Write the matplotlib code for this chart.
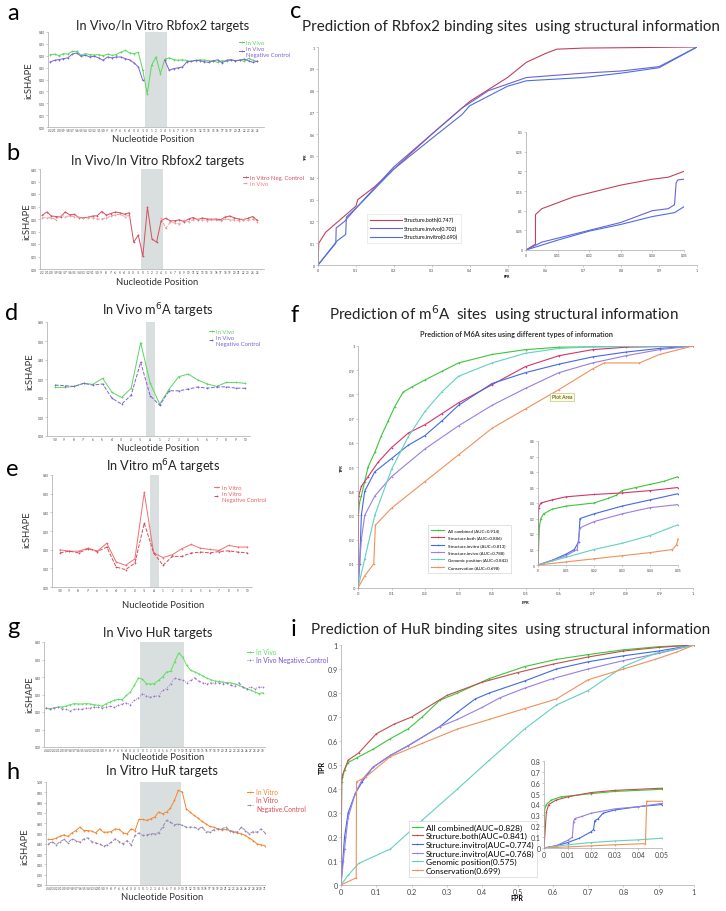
"""Rebuild of the icSHAPE / binding-site prediction composite figure."""

import numpy as np
import matplotlib

matplotlib.use("Agg")
import matplotlib.pyplot as plt
from matplotlib.ticker import FuncFormatter

W, H = 726, 912
plt.rcParams["font.family"] = ["Lato", "DejaVu Sans"]

nan = np.nan

# ---------------------------------------------------------------- data --
# a / b : Rbfox2 targets, icSHAPE per nucleotide
RBFOX_POS = list(range(-22, 26))
a_invivo = [0.305, 0.307, 0.300, 0.309, 0.307, 0.318, 0.319, 0.302, 0.309, 0.305,
            0.303, 0.305, 0.300, 0.307, 0.302, 0.305, 0.315, 0.323, 0.312, 0.309,
            0.314, 0.239, 0.140, 0.260, 0.295, 0.225, 0.285, 0.291, 0.284, 0.281,
            0.283, 0.280, 0.276, 0.280, 0.283, 0.282, 0.279, 0.278, 0.272, 0.280,
            0.276, 0.281, 0.279, 0.283, 0.276, 0.289, 0.281, 0.276]
a_negctrl = [0.274, 0.281, 0.284, 0.288, 0.291, 0.307, 0.312, 0.298, 0.302, 0.295,
             0.298, 0.291, 0.281, 0.295, 0.291, 0.295, 0.295, 0.288, 0.283, 0.270,
             0.253, 0.196, nan, nan, nan, nan, 0.281, 0.239, 0.246, 0.249,
             0.253, 0.274, 0.277, 0.281, 0.279, 0.275, 0.272, 0.279, 0.283, 0.270,
             0.281, 0.284, 0.279, 0.281, 0.286, 0.279, 0.272, 0.277]
b_negctrl = [0.215, 0.228, 0.212, 0.210, 0.208, 0.228, 0.217, 0.219, 0.206, 0.205,
             0.207, 0.212, 0.213, 0.230, 0.216, 0.222, 0.228, 0.225, 0.219, 0.225,
             0.107, 0.136, 0.051, 0.247, 0.120, 0.107, 0.193, 0.203, 0.193, 0.193,
             0.197, 0.189, 0.200, 0.206, 0.197, 0.204, 0.200, 0.199, 0.200, 0.197,
             0.208, 0.212, 0.205, 0.200, 0.198, 0.203, 0.210, 0.195]
b_invivo = [0.205, 0.205, 0.205, 0.198, 0.215, 0.210, 0.212, 0.210, 0.207, 0.203,
            0.205, 0.205, 0.200, 0.200, 0.205, 0.211, 0.217, 0.219, 0.210, 0.214,
            nan, nan, nan, nan, nan, nan, 0.203, 0.163, 0.187, 0.184,
            0.180, 0.195, 0.190, 0.197, 0.200, 0.196, 0.194, 0.197, 0.195, 0.193,
            0.200, 0.198, 0.196, 0.194, 0.197, 0.195, 0.199, 0.190]

# d / e : m6A targets
M6A_POS = ["-10", "-9", "-8", "-7", "-6", "-5", "-4", "-3", "-2", "-1", "A",
           "1", "2", "3", "4", "5", "6", "7", "8", "9", "10"]
d_invivo = [0.256, 0.256, 0.261, 0.277, 0.272, 0.304, 0.229, 0.203, 0.251, 0.491,
            0.279, 0.168, 0.247, 0.312, 0.326, 0.295, 0.274, 0.261, 0.282, 0.282, 0.277]
d_negctrl = [0.268, 0.265, 0.261, 0.277, 0.268, 0.274, 0.198, 0.168, 0.215, 0.388,
             0.212, 0.162, 0.238, 0.238, 0.247, 0.258, 0.252, 0.258, 0.259, 0.252, 0.251]
e_invitro = [0.199, 0.192, 0.192, 0.208, 0.192, 0.235, 0.134, 0.116, 0.151, 0.507,
             0.182, 0.158, 0.173, 0.205, 0.228, 0.208, 0.201, 0.196, 0.223, 0.214, 0.214]
e_negctrl = [0.183, 0.192, 0.183, 0.205, 0.190, 0.214, 0.107, 0.093, 0.128, 0.342,
             0.183, 0.116, 0.164, 0.164, 0.182, 0.187, 0.183, 0.190, 0.194, 0.187, 0.183]

# g / h : HuR targets
g_invivo = [0.223, 0.219, 0.223, 0.229, 0.229, 0.234, 0.242, 0.248, 0.246, 0.246,
            0.248, 0.246, 0.242, 0.238, 0.234, 0.248, 0.257, 0.267, 0.272, 0.270,
            0.295, 0.314, 0.352, 0.394, 0.387, 0.362, 0.360, 0.362, 0.381, 0.400,
            0.429, 0.432, 0.486, 0.537, 0.514, 0.467, 0.438, 0.429, 0.419, 0.406,
            0.394, 0.385, 0.377, 0.375, 0.371, 0.368, 0.366, 0.360, 0.352, 0.341,
            0.333, 0.324, 0.314, 0.305, 0.310]
g_negctrl = [0.223, 0.215, 0.223, 0.227, 0.219, 0.215, 0.208, 0.215, 0.219, 0.215,
             0.223, 0.223, 0.227, 0.227, 0.223, 0.229, 0.234, 0.227, 0.238, 0.248,
             0.251, 0.242, 0.267, 0.280, 0.305, 0.291, 0.284, 0.291, 0.291, 0.324,
             0.333, 0.362, 0.394, 0.387, 0.381, 0.368, 0.381, 0.396, 0.375, 0.368,
             0.362, 0.366, 0.366, 0.368, 0.362, 0.366, 0.352, 0.347, 0.368, 0.343,
             0.333, 0.343, 0.333, 0.343, 0.341]
h_invitro = [0.442, 0.442, 0.455, 0.474, 0.487, 0.471, 0.506, 0.529, 0.562, 0.529,
             0.529, 0.523, 0.506, 0.545, 0.513, 0.513, 0.519, 0.545, 0.539, 0.506,
             0.497, 0.545, 0.529, 0.636, 0.636, 0.627, 0.643, 0.659, 0.708, 0.692,
             0.708, 0.747, 0.821, 0.919, 0.903, 0.740, 0.708, 0.675, 0.649, 0.617,
             0.594, 0.568, 0.562, 0.545, 0.536, 0.539, 0.529, 0.519, 0.506, 0.497,
             0.481, 0.455, 0.432, 0.399, 0.390, 0.383]
h_negctrl = [0.399, 0.422, 0.390, 0.422, 0.442, 0.409, 0.448, 0.432, 0.416, 0.448,
             0.458, 0.422, 0.409, 0.399, 0.377, 0.390, 0.416, 0.448, 0.422, 0.399,
             0.432, 0.390, 0.481, 0.506, 0.481, 0.487, 0.497, 0.497, 0.506, 0.562,
             0.627, 0.610, 0.584, 0.594, 0.578, 0.562, 0.562, 0.562, 0.545, 0.562,
             0.519, 0.513, 0.536, 0.545, 0.545, 0.562, 0.529, 0.519, 0.513, 0.562,
             0.529, 0.497, 0.519, 0.513, 0.545, 0.506]

# c : Rbfox2 ROC (FPR, TPR)
c_both = [(0, 0), (0.002, 0.1), (0.02, 0.15), (0.04, 0.18), (0.06, 0.21), (0.1, 0.27),
          (0.105, 0.3), (0.15, 0.36), (0.2, 0.44), (0.3, 0.6), (0.4, 0.75), (0.5, 0.86),
          (0.55, 0.93), (0.6, 0.97), (0.63, 0.99), (0.7, 0.995), (1, 1)]
c_invivo = [(0, 0), (0.047, 0.1), (0.048, 0.17), (0.07, 0.2), (0.1, 0.26), (0.2, 0.45),
            (0.3, 0.6), (0.38, 0.72), (0.45, 0.8), (0.5, 0.83), (0.55, 0.86), (0.7, 0.88),
            (0.8, 0.89), (0.9, 0.91), (1, 1)]
c_invitro = [(0, 0), (0.05, 0.11), (0.073, 0.14), (0.075, 0.22), (0.1, 0.26), (0.2, 0.44),
             (0.3, 0.58), (0.38, 0.69), (0.4, 0.73), (0.5, 0.82), (0.55, 0.845),
             (0.7, 0.86), (0.8, 0.88), (0.9, 0.905), (1, 1)]
c_in_both = [(0, 0), (0.003, 0.015), (0.003, 0.09), (0.005, 0.105), (0.01, 0.12),
             (0.015, 0.135), (0.02, 0.145), (0.03, 0.165), (0.04, 0.18), (0.045, 0.185),
             (0.05, 0.2)]
c_in_invivo = [(0, 0), (0.005, 0.02), (0.01, 0.03), (0.02, 0.05), (0.03, 0.07), (0.04, 0.1),
               (0.045, 0.105), (0.047, 0.115), (0.0475, 0.17), (0.048, 0.178), (0.05, 0.18)]
c_in_invitro = [(0, 0), (0.01, 0.025), (0.02, 0.048), (0.03, 0.065), (0.04, 0.085),
                (0.047, 0.095), (0.05, 0.11)]

# f : m6A ROC
f_all = [(0, 0), (0.001, 0.3), (0.004, 0.35), (0.01, 0.38), (0.02, 0.44), (0.03, 0.5),
         (0.05, 0.56), (0.07, 0.63), (0.09, 0.69), (0.11, 0.75), (0.135, 0.81), (0.16, 0.83),
         (0.2, 0.86), (0.25, 0.895), (0.3, 0.93), (0.4, 0.965), (0.5, 0.985), (0.6, 0.995),
         (0.8, 0.998), (1, 1)]
f_both = [(0, 0), (0.002, 0.38), (0.01, 0.42), (0.03, 0.46), (0.06, 0.52), (0.1, 0.58),
          (0.15, 0.64), (0.2, 0.675), (0.25, 0.72), (0.3, 0.765), (0.4, 0.84), (0.5, 0.915),
          (0.6, 0.96), (0.7, 0.985), (0.8, 0.995), (1, 1)]
f_invitro = [(0, 0), (0.005, 0.1), (0.01, 0.3), (0.02, 0.4), (0.05, 0.48), (0.1, 0.535),
             (0.15, 0.59), (0.2, 0.63), (0.25, 0.69), (0.3, 0.755), (0.4, 0.845),
             (0.5, 0.89), (0.6, 0.925), (0.7, 0.955), (0.8, 0.975), (0.9, 0.99), (1, 1)]
f_invivo = [(0, 0), (0.01, 0.2), (0.02, 0.3), (0.05, 0.38), (0.1, 0.46), (0.2, 0.575),
            (0.3, 0.67), (0.4, 0.755), (0.5, 0.825), (0.6, 0.89), (0.7, 0.93), (0.8, 0.96),
            (0.9, 0.985), (1, 1)]
f_genomic = [(0, 0), (0.02, 0.12), (0.05, 0.3), (0.1, 0.49), (0.15, 0.625), (0.2, 0.73),
             (0.25, 0.81), (0.3, 0.875), (0.4, 0.93), (0.5, 0.97), (0.6, 0.99),
             (0.7, 0.997), (1, 1)]
f_conserv = [(0, 0), (0.02, 0.05), (0.047, 0.1), (0.052, 0.26), (0.1, 0.33), (0.2, 0.44),
             (0.3, 0.55), (0.4, 0.66), (0.5, 0.74), (0.6, 0.82), (0.7, 0.905), (0.735, 0.93),
             (0.84, 0.93), (0.9, 0.965), (1, 1)]
f_in_all = [(0, 0), (0.0005, 0.25), (0.001, 0.3), (0.002, 0.33), (0.005, 0.36), (0.01, 0.38),
            (0.02, 0.4), (0.025, 0.43), (0.028, 0.45), (0.03, 0.48), (0.035, 0.5),
            (0.04, 0.52), (0.045, 0.54), (0.05, 0.57)]
f_in_both = [(0, 0), (0.0002, 0.37), (0.001, 0.4), (0.005, 0.42), (0.01, 0.44), (0.02, 0.455),
             (0.03, 0.465), (0.04, 0.48), (0.05, 0.5)]
f_in_invitro = [(0, 0), (0.005, 0.03), (0.01, 0.07), (0.013, 0.1), (0.0145, 0.15),
                (0.015, 0.3), (0.02, 0.33), (0.03, 0.38), (0.04, 0.42), (0.05, 0.46)]
f_in_invivo = [(0, 0), (0.005, 0.03), (0.01, 0.06), (0.014, 0.1), (0.015, 0.24), (0.02, 0.28),
               (0.03, 0.33), (0.04, 0.37), (0.05, 0.39)]
f_in_genomic = [(0, 0), (0.01, 0.05), (0.02, 0.1), (0.03, 0.14), (0.04, 0.19), (0.05, 0.26)]
f_in_conserv = [(0, 0), (0.01, 0.02), (0.02, 0.04), (0.03, 0.06), (0.04, 0.08),
                (0.048, 0.1), (0.0495, 0.13), (0.05, 0.17)]

# i : HuR ROC
i_all = [(0, 0), (0.002, 0.43), (0.01, 0.48), (0.02, 0.51), (0.045, 0.53), (0.09, 0.565),
         (0.14, 0.61), (0.19, 0.65), (0.23, 0.7), (0.28, 0.77), (0.33, 0.8), (0.42, 0.86),
         (0.52, 0.91), (0.61, 0.94), (0.7, 0.96), (0.8, 0.98), (0.9, 0.993), (1, 1)]
i_both = [(0, 0), (0.002, 0.45), (0.02, 0.52), (0.05, 0.55), (0.1, 0.63), (0.15, 0.67),
          (0.2, 0.7), (0.3, 0.79), (0.4, 0.845), (0.5, 0.885), (0.6, 0.92), (0.7, 0.95),
          (0.8, 0.975), (0.9, 0.99), (1, 1)]
i_invitro = [(0, 0), (0.005, 0.1), (0.01, 0.2), (0.02, 0.3), (0.04, 0.38), (0.06, 0.43),
             (0.09, 0.49), (0.14, 0.54), (0.19, 0.58), (0.28, 0.66), (0.33, 0.72),
             (0.38, 0.775), (0.42, 0.8), (0.52, 0.85), (0.61, 0.9), (0.7, 0.93),
             (0.8, 0.955), (0.9, 0.975), (1, 1)]
i_invivo = [(0, 0), (0.01, 0.15), (0.02, 0.28), (0.04, 0.38), (0.06, 0.44), (0.09, 0.49),
            (0.14, 0.54), (0.19, 0.58), (0.28, 0.66), (0.33, 0.69), (0.4, 0.74), (0.45, 0.78),
            (0.52, 0.82), (0.6, 0.86), (0.7, 0.9), (0.8, 0.935), (0.9, 0.965), (1, 1)]
i_genomic = [(0, 0), (0.02, 0.04), (0.05, 0.09), (0.14, 0.15), (0.23, 0.27), (0.33, 0.4),
             (0.42, 0.52), (0.52, 0.65), (0.61, 0.75), (0.7, 0.81), (0.8, 0.91),
             (0.89, 0.965), (1, 1)]
i_conserv = [(0, 0), (0.043, 0.03), (0.044, 0.43), (0.07, 0.45), (0.14, 0.535), (0.23, 0.59),
             (0.33, 0.65), (0.42, 0.69), (0.52, 0.735), (0.61, 0.775), (0.7, 0.855),
             (0.8, 0.9), (0.89, 0.94), (0.95, 0.97), (1, 1)]
i_in_all = [(0, 0), (0.0002, 0.35), (0.001, 0.4), (0.003, 0.44), (0.007, 0.47), (0.02, 0.5),
            (0.03, 0.52), (0.05, 0.54)]
i_in_both = [(0, 0), (0.001, 0.33), (0.002, 0.4), (0.005, 0.44), (0.01, 0.47), (0.02, 0.51),
             (0.03, 0.53), (0.05, 0.55)]
i_in_invitro = [(0, 0), (0.005, 0.02), (0.01, 0.05), (0.015, 0.09), (0.02, 0.15),
                (0.021, 0.17), (0.0215, 0.25), (0.023, 0.27), (0.025, 0.32), (0.03, 0.35),
                (0.04, 0.38), (0.05, 0.4)]
i_in_invivo = [(0, 0), (0.005, 0.02), (0.01, 0.07), (0.012, 0.1), (0.0125, 0.24),
               (0.013, 0.27), (0.016, 0.29), (0.02, 0.32), (0.03, 0.36), (0.04, 0.38),
               (0.05, 0.41)]
i_in_genomic = [(0, 0), (0.01, 0.03), (0.02, 0.05), (0.03, 0.065), (0.04, 0.075), (0.05, 0.09)]
i_in_conserv = [(0, 0), (0.01, 0.01), (0.02, 0.02), (0.03, 0.03), (0.043, 0.04),
                (0.0435, 0.43), (0.05, 0.43)]

# ------------------------------------------------------------- styles --
SHADE = "#d9dfdf"
SPINE = "#a8a8a8"
GREEN = "#5bd65b"
PURPLE = "#7b62da"
C_BOTH, C_VIVO, C_VITRO = "#c2405e", "#6a62d8", "#4b6fe0"
R_ALL, R_BOTH, R_VITRO, R_VIVO, R_GEN, R_CONS = (
    "#3cc63c", "#d6336b", "#4169e1", "#9a7ee0", "#62d0c2", "#f0905a")

fig = plt.figure(figsize=(W / 100, H / 100), dpi=100)


def px_axes(l, t, r, b):
    return fig.add_axes([l / W, 1 - b / H, (r - l) / W, (b - t) / H])


def ftext(x, y, s, **kw):
    kw.setdefault("ha", "center")
    kw.setdefault("va", "center")
    return fig.text(x / W, 1 - y / H, s, **kw)


def style_axes(ax, fs):
    for side in ("top", "right"):
        ax.spines[side].set_visible(False)
    for side in ("left", "bottom"):
        ax.spines[side].set_color(SPINE)
        ax.spines[side].set_linewidth(0.5)
    ax.tick_params(labelsize=fs, length=1.2, width=0.4, color=SPINE,
                   labelcolor="#444444", pad=1)
    ax.set_facecolor("none")


def profile(box, series, labels, shade, ylim, nyt, xlim, legend_at, legend_colors,
            title, title_xy, xlab_xy, ylab_xy, letter, letter_xy, lfs=4.2):
    ax = px_axes(*box)
    x = np.arange(len(labels))
    for vals, color, ls, mk, lab in series:
        ax.plot(x[:len(vals)], vals, color=color, ls=ls, lw=0.7, marker=mk, ms=1.6,
                mew=0.5, label=lab)
    ax.axvspan(shade[0], shade[1], color=SHADE, lw=0, zorder=0)
    ax.set_xlim(*xlim)
    ax.set_ylim(*ylim)
    ax.set_yticks(np.linspace(ylim[0], ylim[1], nyt))
    ax.yaxis.set_major_formatter(FuncFormatter(lambda v, p: f"{v:.2f}"))
    ax.set_xticks(x)
    ax.set_xticklabels(labels)
    style_axes(ax, 2.2)
    ax.tick_params(axis="x", length=0)
    leg = ax.legend(loc="upper left", bbox_to_anchor=(legend_at[0] / W, 1 - legend_at[1] / H),
                    bbox_transform=fig.transFigure, fontsize=lfs, frameon=False,
                    handlelength=0.9, handletextpad=0.4, labelspacing=0.15,
                    borderpad=0, labelcolor=legend_colors)
    leg.set_zorder(5)
    ftext(*title_xy, title, fontsize=9.2, color="#222222")
    ftext(*xlab_xy, "Nucleotide Position", fontsize=6.8, color="#333333")
    ftext(*ylab_xy, "icSHAPE", fontsize=6.8, rotation=90, color="#333333")
    ftext(*letter_xy, letter, fontsize=17, color="black")
    return ax


def roc(box, curves, fs, marker=None, ticks=(0.1, 0.1), lim=(1, 1)):
    ax = px_axes(*box)
    for pts, color, lab in curves:
        xy = np.asarray(pts, dtype=float)
        ax.plot(xy[:, 0], xy[:, 1], color=color, lw=0.8, marker=marker, ms=1.3,
                mew=0.4, label=lab)
    ax.set_xlim(0, lim[0])
    ax.set_ylim(0, lim[1])
    ax.set_xticks(np.arange(0, lim[0] + 1e-9, ticks[0]))
    ax.set_yticks(np.arange(0, lim[1] + 1e-9, ticks[1]))
    fmt = FuncFormatter(lambda v, p: f"{v:.10g}" if abs(v) > 1e-12 else "0")
    ax.xaxis.set_major_formatter(fmt)
    ax.yaxis.set_major_formatter(fmt)
    style_axes(ax, fs)
    return ax


# ----------------------------------------------------------- left col --
profile((48, 33, 264, 128),
        [(a_invivo, GREEN, "-", "+", "In Vivo"),
         (a_negctrl, PURPLE, "-", "+", "In Vivo\nNegative Control")],
        RBFOX_POS, (21.6, 26.4), (0, 0.4), 9, (-0.5, 48.5), (236, 38),
        [GREEN, PURPLE], "In Vivo/In Vitro Rbfox2 targets", (163, 26), (153, 139),
        (29, 81), "a", (13, 14))

profile((40, 170, 264, 270),
        [(b_negctrl, "#d4505e", "-", "+", "In Vitro Neg. Control"),
         (b_invivo, "#f29a9a", "--", "+", "In Vivo")],
        RBFOX_POS, (21.6, 26.4), (0, 0.4), 9, (-0.5, 48.5), (240, 173),
        ["#d4505e", "#f08080"], "In Vivo/In Vitro Rbfox2 targets", (158, 161), (157, 283),
        (27, 222), "b", (13, 153))

profile((47, 323, 250, 437),
        [(d_invivo, GREEN, "-", "+", "In Vivo"),
         (d_negctrl, PURPLE, "--", "+", "In Vivo\nNegative Control")],
        M6A_POS, (9.6, 10.55), (0, 0.6), 7, (-0.85, 20.5), (206, 327),
        [GREEN, PURPLE], "In Vivo m$^6$A targets", (158, 311), (158, 449),
        (30, 372), "d", (12, 313))

profile((52, 476, 252, 588),
        [(e_invitro, "#f07070", "-", "+", "In Vitro"),
         (e_negctrl, "#d84a5a", "--", "+", "In Vitro\nNegative Control")],
        M6A_POS, (9.6, 10.55), (0, 0.6), 7, (-0.85, 20.5), (211, 483),
        ["#f06060", "#f06060"], "In Vitro m$^6$A targets", (163, 467), (163, 606),
        (27, 530), "e", (12, 470))

profile((44, 643, 265, 748),
        [(g_invivo, "#5ee05e", "-", "+", "In Vivo"),
         (g_negctrl, "#a070d0", ":", "+", "In Vivo Negative.Control")],
        list(range(-24, 31)), (23.5, 34.3), (0, 0.6), 7, (-0.5, 54.5), (244, 646),
        ["#5ee05e", "#7a4fd0"], "In Vivo HuR targets", (158, 633), (163, 758),
        (30, 695), "g", (13, 627), lfs=4.8)

profile((46, 783, 265, 886),
        [(h_invitro, "#f5862f", "-", "+", "In Vitro"),
         (h_negctrl, "#9a86b4", "--", "+", "In Vitro\nNegative.Control")],
        list(range(-24, 32)), (23.3, 33.6), (0, 1.0), 11, (-0.6, 54.8), (244, 786),
        ["#f5862f", "#e04a50"], "In Vitro HuR targets", (162, 771), (162, 898),
        (25, 847), "h", (13, 773), lfs=4.8)

# ---------------------------------------------------------- right col --
ax_c = roc((318, 48, 697, 266),
           [(c_both, C_BOTH, "Structure.both(0.747)"),
            (c_invivo, C_VIVO, "Structure.invivo(0.702)"),
            (c_invitro, C_VITRO, "Structure.invitro(0.690)")], 2.6)
ax_c.legend(loc="upper left", bbox_to_anchor=(367 / W, 1 - 215 / H),
            bbox_transform=fig.transFigure, fontsize=3.8, frameon=True, fancybox=False,
            edgecolor="#dddddd", handlelength=6, labelspacing=0.6, borderpad=0.6,
            borderaxespad=0, handletextpad=0.3,
            framealpha=1).get_frame().set_linewidth(0.4)
inset_c = roc((526, 133, 684, 251),
              [(c_in_both, C_BOTH, None), (c_in_invivo, C_VIVO, None),
               (c_in_invitro, C_VITRO, None)], 2.4, ticks=(0.01, 0.05), lim=(0.05, 0.3))
ftext(296, 12, "c", fontsize=17)
ftext(511, 27, "Prediction of Rbfox2 binding sites  using structural information",
      fontsize=10.9, color="#222222")
ftext(306, 157, "TPR", fontsize=2.6, rotation=90, weight="bold")
ftext(507, 277, "FPR", fontsize=2.6, weight="bold")

f_curves = [(f_all, R_ALL, "All combined (AUC=0.914)"),
            (f_both, R_BOTH, "Structure.both (AUC=0.886)"),
            (f_invitro, R_VITRO, "Structure.invitro (AUC=0.813)"),
            (f_invivo, R_VIVO, "Structure.invivo (AUC=0.788)"),
            (f_genomic, R_GEN, "Genomic position (AUC=0.842)"),
            (f_conserv, R_CONS, "Conservation (AUC=0.698)")]
ax_f = roc((358, 347, 693, 589), f_curves, 3.0, marker="+")
ax_f.legend(loc="upper left", bbox_to_anchor=(428 / W, 1 - 526 / H),
            bbox_transform=fig.transFigure, fontsize=3.2, frameon=True, fancybox=False,
            edgecolor="#cccccc", handlelength=3, labelspacing=0.75, borderpad=0.7,
            borderaxespad=0, framealpha=1).get_frame().set_linewidth(0.4)
roc((538, 442, 678, 566),
    [(f_in_all, R_ALL, None), (f_in_both, R_BOTH, None), (f_in_invitro, R_VITRO, None),
     (f_in_invivo, R_VIVO, None), (f_in_genomic, R_GEN, None), (f_in_conserv, R_CONS, None)],
    2.4, marker="+", ticks=(0.01, 0.1), lim=(0.05, 0.8))
ftext(295, 315, "f", fontsize=17)
ftext(504, 314, "Prediction of m$^6$A  sites  using structural information",
      fontsize=10.9, color="#222222")
ftext(516, 335, "Prediction of M6A sites using different types of information",
      fontsize=5.2, weight="bold", color="#333333")
ftext(562, 398, "Plot Area", fontsize=3.6, color="#333333",
      bbox=dict(boxstyle="square,pad=0.3", fc="#ffffcc", ec="#b0b0a0", lw=0.4))
ftext(342, 468, "TPR", fontsize=3, rotation=90, weight="bold")
ftext(525, 603, "FPR", fontsize=3, weight="bold")

i_curves = [(i_all, R_ALL, "All combined(AUC=0.828)"),
            (i_both, "#c0504d", "Structure.both(AUC=0.841)"),
            (i_invitro, R_VITRO, "Structure.invitro(AUC=0.774)"),
            (i_invivo, R_VIVO, "Structure.invitro(AUC=0.768)"),
            (i_genomic, R_GEN, "Genomic position(0.575)"),
            (i_conserv, R_CONS, "Conservation(0.699)")]
ax_i = roc((341, 646, 694, 886), i_curves, 5.2, marker="+")
ax_i.legend(loc="upper left", bbox_to_anchor=(409 / W, 1 - 822 / H),
            bbox_transform=fig.transFigure, fontsize=6.0, frameon=True, fancybox=False,
            edgecolor="#cccccc", handlelength=1.4, handletextpad=0.3, labelspacing=0.18,
            borderpad=0.3, borderaxespad=0,
            framealpha=1).get_frame().set_linewidth(0.4)
roc((544, 762, 662, 849),
    [(i_in_all, R_ALL, None), (i_in_both, "#c0504d", None), (i_in_invitro, R_VITRO, None),
     (i_in_invivo, R_VIVO, None), (i_in_genomic, R_GEN, None), (i_in_conserv, R_CONS, None)],
    5.0, marker="+", ticks=(0.01, 0.1), lim=(0.05, 0.8))
ftext(294, 630, "i", fontsize=17)
ftext(511, 630, "Prediction of HuR binding sites  using structural information",
      fontsize=10.9, color="#222222")
ftext(322, 767, "TPR", fontsize=5, rotation=90, weight="bold")
ftext(517, 899, "FPR", fontsize=5, weight="bold")

fig.savefig("out.png", dpi=100, facecolor="white")
